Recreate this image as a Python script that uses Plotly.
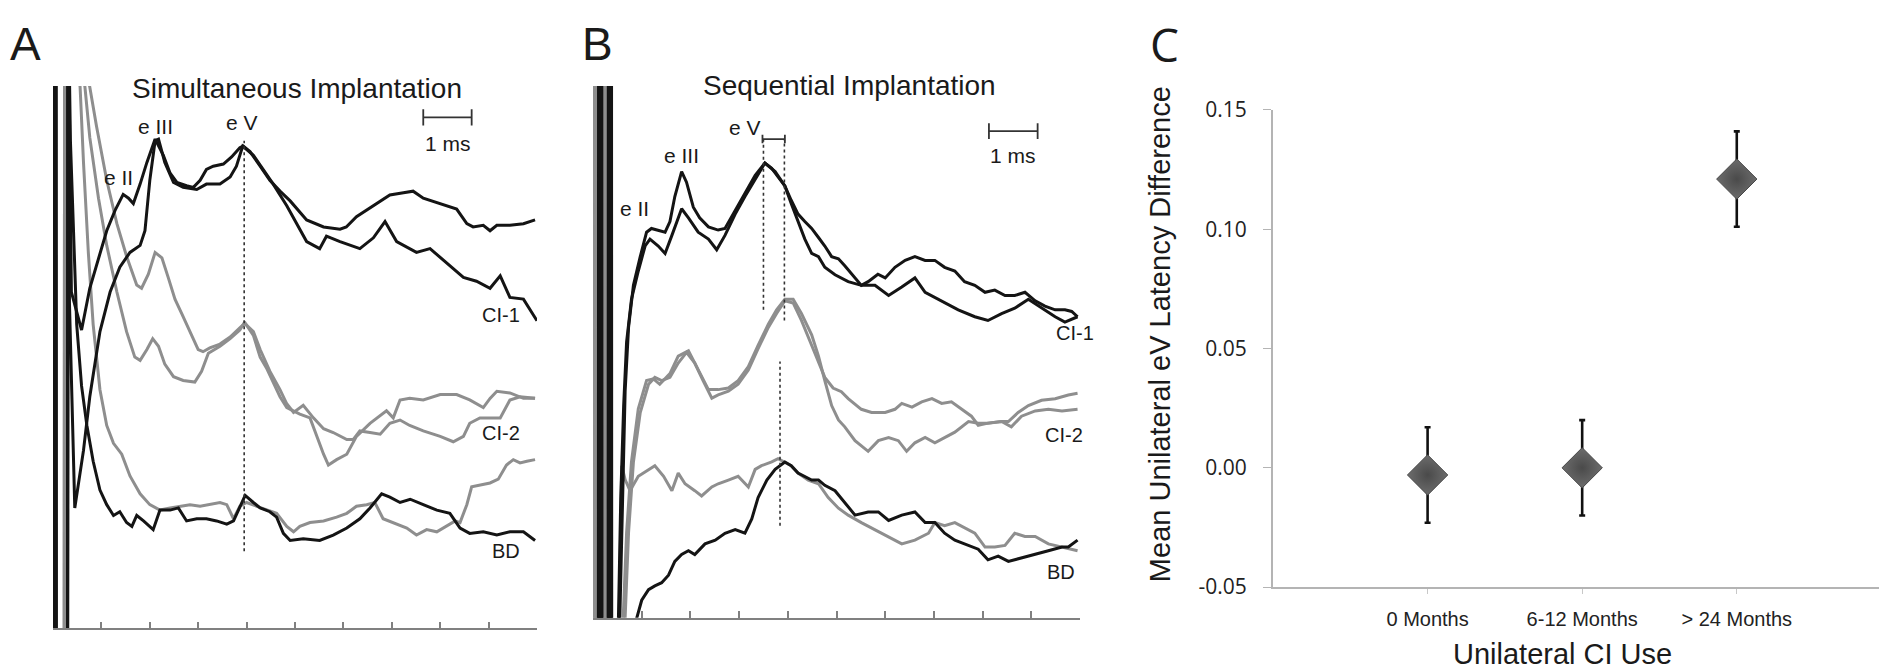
import plotly.graph_objects as go

W, H = 1879, 672

# ---------------- Panel A: Simultaneous implantation (time ms, amplitude a.u.) ----------------
A_CI1_A = [(0.0, -20), (0.005, 120), (0.06, 120), (0.065, -20), (0.30, -20), (0.31, 120), (0.38, 62), (0.59, 55),
           (0.76, 62.7), (0.94, 68), (1.11, 73.3), (1.28, 77), (1.45, 80), (1.56, 79.3), (1.66, 78.3), (1.80, 81.9),
           (1.94, 85.9), (2.11, 90.2), (2.28, 87.2), (2.42, 83.9), (2.56, 82.2), (2.76, 81.6), (2.90, 81.3),
           (3.04, 82.6), (3.17, 84.6), (3.31, 85.2), (3.52, 85.6), (3.69, 86.9), (3.86, 88.6), (3.93, 88.9),
           (4.07, 87.9), (4.28, 85.2), (4.48, 82.6), (4.69, 80.6), (4.90, 78.8), (5.24, 75.3), (5.59, 74),
           (5.93, 73.6), (6.06, 74), (6.27, 75.9), (6.62, 77.9), (6.96, 79.9), (7.24, 80.3), (7.44, 80.6),
           (7.65, 79.3), (8.00, 78.3), (8.34, 77.3), (8.55, 74.6), (8.68, 74), (8.89, 74.3), (9.03, 73.3),
           (9.17, 74.3), (9.44, 74.3), (9.72, 74.6), (9.96, 75.3)]
A_CI1_B = [(0.0, -20), (0.005, 120), (0.06, 120), (0.065, -20), (0.30, -20), (0.31, 120), (0.34, 60), (0.45, 22.2),
           (0.63, 32.8), (0.76, 42.7),
           (0.97, 54.7), (1.18, 62), (1.38, 66.6), (1.59, 69.3), (1.80, 70.6), (1.90, 73.3), (2.00, 82.6),
           (2.11, 89.9), (2.18, 90.2), (2.31, 85.9), (2.49, 82.2), (2.69, 81.3), (2.97, 80.9), (3.17, 81.9),
           (3.45, 81.9), (3.66, 83.2), (3.79, 85.2), (3.92, 88.9), (4.14, 87.2), (4.35, 84.6), (4.55, 81.9),
           (4.83, 77.9), (5.05, 74.5), (5.24, 71.3), (5.51, 70), (5.65, 72.3), (5.93, 71.3), (6.34, 70),
           (6.62, 72), (6.86, 75), (7.10, 71.3), (7.51, 69.3), (7.79, 70), (8.13, 67.3), (8.48, 64.7),
           (8.75, 64), (9.03, 62.7), (9.24, 65), (9.44, 61), (9.72, 60.7), (10.0, 56.7)]
A_BD_K = [(0.0, -20), (0.005, 120), (0.06, 120), (0.065, -20), (0.30, -20), (0.31, 120), (0.36, 89.9), (0.42, 72.6),
          (0.49, 56),
          (0.59, 44.7), (0.70, 37.4), (0.83, 30.8), (0.97, 25.5), (1.11, 22.8), (1.25, 20.8), (1.38, 21.5),
          (1.52, 19.5), (1.63, 18.8), (1.73, 20.8), (1.87, 19.8), (2.07, 18.2), (2.21, 21.8), (2.42, 21.8),
          (2.59, 22.2), (2.76, 19.8), (2.97, 20.2), (3.17, 20.2), (3.38, 19.8), (3.59, 19.2), (3.73, 19.8),
          (3.86, 22.2), (3.97, 24.5), (4.14, 23.2), (4.28, 22.2), (4.48, 21.5), (4.62, 20.5), (4.76, 17.5),
          (4.90, 16.2), (5.17, 16.5), (5.51, 16.2), (5.79, 17.2), (6.07, 18.5), (6.34, 20.2), (6.55, 22.2),
          (6.79, 24.8), (6.96, 24.2), (7.17, 23.2), (7.38, 23.8), (7.65, 22.8), (7.93, 21.8), (8.20, 21.2),
          (8.41, 18.5), (8.61, 17.5), (8.89, 17.8), (9.17, 17.2), (9.44, 17.8), (9.72, 17.8), (9.96, 16.2)]
A_CI2_A = [(0.23, -20), (0.24, 120), (0.76, 99.8),
           (0.90, 92.5), (1.11, 82.6), (1.32, 74.6), (1.52, 68.6), (1.73, 63.3), (1.83, 62.7), (1.97, 65.3),
           (2.11, 69.3), (2.25, 68.3), (2.38, 64.7), (2.52, 60.7), (2.66, 58), (2.83, 54.7), (3.00, 51.4),
           (3.10, 51), (3.24, 51.7), (3.45, 52.4), (3.66, 53.7), (3.86, 55.4), (3.97, 56.3), (4.14, 54),
           (4.28, 50), (4.41, 48), (4.55, 45.4), (4.69, 42.7), (4.83, 40.7), (5.10, 39.5), (5.31, 38.8),
           (5.45, 35.4), (5.59, 32.1), (5.69, 30.1), (5.86, 31.1), (6.07, 32.1), (6.27, 35.4), (6.55, 37.8),
           (6.89, 40.1), (7.03, 38.8), (7.17, 42.1), (7.37, 42.4), (7.65, 42.1), (8.00, 43.1), (8.34, 43.1),
           (8.61, 42.1), (8.89, 40.7), (9.03, 42.4), (9.17, 43.7), (9.44, 43.4), (9.72, 42.4), (9.96, 42.4)]
A_CI2_B = [(0.23, -20), (0.24, 120), (0.66, 99.8),
           (0.76, 90.5), (0.94, 79.3), (1.11, 70.6), (1.32, 62), (1.52, 54.7), (1.69, 50), (1.80, 49.4),
           (1.94, 51.4), (2.06, 53.4), (2.18, 52), (2.31, 48.7), (2.49, 46.4), (2.69, 45.7), (2.93, 45.4),
           (3.07, 47.4), (3.21, 50.7), (3.45, 52), (3.66, 53.4), (3.86, 55), (3.95, 56.3), (4.14, 54.7),
           (4.28, 51.4), (4.48, 47.4), (4.69, 44), (4.83, 41.4), (4.97, 39.8), (5.17, 41.1), (5.38, 38.8),
           (5.59, 36.8), (5.79, 36.1), (6.07, 34.8), (6.20, 34.8), (6.34, 36.4), (6.55, 36.1), (6.76, 35.8),
           (6.96, 37.8), (7.17, 38.4), (7.37, 37.4), (7.65, 36.4), (8.00, 35.4), (8.27, 34.4), (8.48, 35.4),
           (8.61, 37.8), (8.82, 38.8), (9.03, 38.8), (9.24, 38.8), (9.44, 42.1), (9.65, 42.7), (9.96, 42.4)]
A_BD_G = [(0.25, -20), (0.26, 120), (0.56, 99.8),
          (0.63, 85.9), (0.73, 69.3), (0.83, 56), (0.97, 44), (1.11, 37.4), (1.25, 34.1), (1.42, 32.1),
          (1.59, 28.1), (1.80, 24.8), (2.00, 22.8), (2.21, 21.8), (2.42, 22.2), (2.62, 22.5), (2.83, 22.8),
          (3.04, 22.5), (3.24, 22.8), (3.45, 23.2), (3.59, 22.8), (3.73, 20.2), (3.86, 22.5), (4.00, 23.2),
          (4.21, 22.5), (4.41, 21.8), (4.62, 21.2), (4.83, 18.8), (4.97, 17.8), (5.10, 18.8), (5.31, 19.5),
          (5.59, 19.8), (5.86, 20.5), (6.07, 21.2), (6.27, 22.5), (6.48, 22.8), (6.65, 23.2), (6.82, 20.2),
          (7.03, 19.5), (7.31, 18.5), (7.51, 17.2), (7.72, 18.2), (7.93, 17.8), (8.13, 18.8), (8.31, 19.8),
          (8.41, 19.5), (8.55, 22.8), (8.65, 26.1), (8.82, 26.4), (9.03, 26.8), (9.20, 27.5), (9.37, 30.1),
          (9.51, 31.1), (9.65, 30.5), (9.79, 30.8), (9.96, 31.1)]
A_EV_LINE = [(3.95, 14.2), (3.95, 89.9)]

# ---------------- Panel B: Sequential implantation ----------------
B_CI1_A = [(0.11, -20), (0.115, 120), (0.16, 120), (0.165, -20), (0.31, -20), (0.315, 120), (0.36, 120),
           (0.365, -20), (0.50, -20), (0.55, 0), (0.60, 22.6), (0.66, 42.6), (0.73, 54.6), (0.83, 62.5),
           (0.97, 67.9), (1.10, 72.5), (1.20, 73.2), (1.34, 72.9), (1.48, 72.5), (1.58, 74.5), (1.68, 79.2),
           (1.82, 83.9), (1.92, 81.9), (2.06, 77.2), (2.19, 75.2), (2.37, 73.5), (2.57, 72.9), (2.71, 73.2),
           (2.92, 76.5), (3.12, 79.9), (3.33, 83.2), (3.53, 85.5), (3.67, 84.5), (3.80, 82.9), (3.94, 81.2),
           (4.07, 78.5), (4.21, 75.9), (4.35, 74.5), (4.49, 73.2), (4.63, 71.5), (4.76, 69.9), (4.90, 67.9),
           (5.04, 67.5), (5.17, 66.2), (5.38, 63.9), (5.51, 62.5), (5.65, 63.2), (5.85, 64.6), (6.00, 63.9),
           (6.20, 65.9), (6.41, 67.2), (6.61, 67.9), (6.82, 67.2), (7.02, 67.2), (7.22, 65.9), (7.43, 65.2),
           (7.63, 63.2), (7.84, 62.5), (8.05, 61.2), (8.25, 61.6), (8.46, 60.6), (8.66, 60.6), (8.87, 61.2),
           (9.08, 59.6), (9.28, 58.6), (9.49, 57.9), (9.69, 57.9), (9.83, 57.6), (9.95, 56.6)]
B_CI1_B = [(0.12, -20), (0.125, 120), (0.17, 120), (0.175, -20), (0.32, -20), (0.325, 120), (0.37, 120),
           (0.375, -20), (0.48, -20), (0.52, 0), (0.57, 22.6), (0.63, 40), (0.69, 51.9), (0.79, 59.9),
           (0.93, 65.2), (1.07, 69.9), (1.17, 71.2), (1.34, 69.9), (1.48, 68.5), (1.62, 71.9), (1.82, 76.9),
           (1.96, 75.2), (2.16, 72.5), (2.37, 71.2), (2.54, 69.2), (2.71, 71.9), (2.92, 75.9), (3.12, 79.2),
           (3.33, 82.5), (3.53, 85.5), (3.74, 83.9), (3.94, 81.2), (4.07, 77.9), (4.21, 74.5), (4.35, 71.2),
           (4.49, 68.5), (4.63, 67.9), (4.76, 65.9), (4.97, 64.5), (5.24, 63.2), (5.51, 62.5), (5.79, 62.5),
           (6.07, 60.6), (6.34, 62.2), (6.61, 63.9), (6.82, 61.2), (7.02, 60.2), (7.22, 59.2), (7.50, 57.9),
           (7.84, 56.6), (8.11, 55.9), (8.39, 57.2), (8.66, 58.2), (8.94, 59.9), (9.21, 58.2), (9.49, 56.6),
           (9.69, 55.6), (9.95, 56.6)]
B_BD_K = [(0.13, -20), (0.135, 120), (0.18, 120), (0.185, -20), (0.33, -20), (0.335, 120), (0.38, 120),
          (0.385, -20), (0.85, -20), (0.90, 0), (1.00, 3.3), (1.14, 5.3), (1.27, 6), (1.41, 6.6), (1.55, 8),
          (1.68, 10.6), (1.82, 11.9), (1.96, 12.6), (2.09, 11.9), (2.30, 13.9), (2.51, 14.6), (2.71, 15.9),
          (2.92, 16.6), (3.12, 15.9), (3.26, 18.6), (3.39, 22.6), (3.57, 25.9), (3.74, 27.9), (3.94, 29.3),
          (4.07, 28.6), (4.21, 27.2), (4.35, 26.6), (4.49, 25.9), (4.63, 25.9), (4.76, 24.9), (4.97, 23.9),
          (5.17, 21.6), (5.38, 19.3), (5.65, 19.9), (5.86, 19.9), (6.07, 18.3), (6.34, 19.3), (6.61, 19.9),
          (6.82, 17.9), (7.02, 17.9), (7.22, 15.9), (7.43, 14.6), (7.71, 13.6), (7.91, 12.9), (8.11, 10.9),
          (8.32, 11.6), (8.53, 10.6), (8.80, 11.3), (9.08, 11.9), (9.35, 12.6), (9.63, 13.3), (9.76, 13.3),
          (9.95, 14.6)]
B_CI2_A = [(0.01, -20), (0.015, 120), (0.06, 120), (0.065, -20), (0.21, -20), (0.215, 120), (0.26, 120),
           (0.265, -20), (0.60, -20), (0.66, 0), (0.73, 16), (0.83, 29.3), (0.97, 38.6), (1.14, 43.9),
           (1.27, 45.2), (1.41, 44.6), (1.58, 45.2), (1.75, 47.9), (1.92, 49.9), (2.09, 47.9), (2.26, 44.6),
           (2.44, 41.3), (2.57, 41.9), (2.78, 42.6), (2.98, 43.9), (3.19, 46.6), (3.39, 50.6), (3.60, 54.6),
           (3.77, 57.2), (3.94, 59.6), (4.11, 59.2), (4.28, 55.9), (4.46, 51.9), (4.63, 47.9), (4.76, 45.2),
           (4.93, 43.2), (5.10, 42.5), (5.24, 41.2), (5.51, 39.2), (5.72, 38.6), (6.00, 38.6), (6.20, 39.2),
           (6.34, 40.3), (6.55, 39.6), (6.75, 40.6), (6.96, 41.2), (7.16, 40.3), (7.36, 40.6), (7.57, 39.2),
           (7.77, 37.9), (7.91, 36.2), (8.11, 36.6), (8.39, 36.9), (8.59, 35.9), (8.80, 37.9), (9.08, 38.9),
           (9.35, 39.2), (9.63, 38.9), (9.95, 39.2)]
B_CI2_B = [(0.03, -20), (0.035, 120), (0.08, 120), (0.085, -20), (0.23, -20), (0.235, 120), (0.28, 120),
           (0.285, -20), (0.56, -20), (0.62, 0), (0.69, 16), (0.79, 29.3), (0.93, 39.3), (1.10, 44.6),
           (1.24, 44.9), (1.37, 43.9), (1.58, 45.9), (1.75, 49.2), (1.96, 50.2), (2.16, 46.6), (2.37, 42.9),
           (2.57, 42.9), (2.78, 43.2), (2.98, 44.6), (3.19, 47.2), (3.39, 51.2), (3.60, 55.2), (3.77, 57.9),
           (3.94, 59.9), (4.11, 59.9), (4.28, 57.2), (4.49, 53.2), (4.63, 49.2), (4.76, 44.6), (4.90, 39.9),
           (5.04, 37.2), (5.17, 35.9), (5.38, 33.3), (5.65, 31.3), (5.86, 33.3), (6.07, 33.9), (6.27, 33.3),
           (6.44, 31.3), (6.61, 32.9), (6.82, 33.9), (7.02, 32.9), (7.22, 33.9), (7.43, 34.9), (7.71, 36.9),
           (7.91, 36.6), (8.11, 36.6), (8.39, 36.9), (8.53, 36.9), (8.73, 38.6), (8.94, 39.9), (9.21, 40.9),
           (9.49, 41.2), (9.76, 41.9), (9.95, 42.2)]
B_BD_G = [(0.05, -20), (0.055, 120), (0.10, 120), (0.105, -20), (0.25, -20), (0.255, 120), (0.30, 120),
          (0.305, -20), (0.50, -20), (0.55, 10), (0.59, 28.6), (0.66, 26), (0.76, 23.9), (0.93, 26.6),
          (1.14, 27.9), (1.27, 28.6), (1.45, 26.6), (1.62, 23.9), (1.75, 27.2), (1.89, 25.2), (2.09, 23.9),
          (2.23, 22.9), (2.44, 24.6), (2.57, 25.2), (2.78, 25.9), (2.98, 26.6), (3.19, 24.6), (3.33, 27.9),
          (3.46, 28.6), (3.67, 29.3), (3.80, 29.9), (3.94, 29.3), (4.07, 28.6), (4.21, 27.2), (4.42, 25.9),
          (4.63, 25.2), (4.83, 22.6), (5.04, 20.6), (5.24, 19.3), (5.51, 17.9), (5.79, 16.6), (6.07, 15.3),
          (6.34, 13.9), (6.61, 14.6), (6.89, 15.9), (7.02, 17.9), (7.22, 17.3), (7.43, 17.9), (7.63, 17.0),
          (7.84, 15.9), (8.05, 13.3), (8.25, 13.3), (8.46, 13.6), (8.66, 15.9), (8.87, 15.3), (9.08, 15.3),
          (9.35, 13.9), (9.63, 13.3), (9.95, 12.6)]
B_EV_LINES = [[(3.50, 57.9), (3.50, 89.9)], [(3.93, 55.9), (3.93, 89.9)], [(3.84, 17.3), (3.84, 48.2)]]

# ---------------- Panel C: mean unilateral eV latency difference ----------------
C_CATEGORIES = ["0 Months", "6-12 Months", "> 24 Months"]
C_MEANS = [-0.003, 0.0, 0.121]
C_ERRORS = [0.02, 0.02, 0.02]
C_YTICKS = [-0.05, 0.0, 0.05, 0.10, 0.15]
C_YTICKTEXT = ["-0.05", "0.00", "0.05", "0.10", "0.15"]

BLACK = "#141414"
GRAY = "#8e8e8e"
AXIS_GRAY = "#808080"
FONT = "Liberation Sans, Arial, Helvetica, sans-serif"
NARROW = "Liberation Sans Narrow, Arial Narrow, Liberation Sans, sans-serif"


def px(xp):
    return xp / W


def py(yp):
    return 1 - yp / H


fig = go.Figure()


def add_line(pairs, color, xa, ya, width=3.0, dash=None):
    fig.add_trace(go.Scatter(
        x=[p[0] for p in pairs], y=[p[1] for p in pairs], mode="lines",
        line=dict(color=color, width=width, dash=dash),
        xaxis=xa, yaxis=ya, showlegend=False, hoverinfo="skip"))


# Panel A traces
for tr in (A_CI2_A, A_CI2_B, A_BD_G):
    add_line(tr, GRAY, "x", "y")
for tr in (A_CI1_A, A_CI1_B, A_BD_K):
    add_line(tr, BLACK, "x", "y")
add_line(A_EV_LINE, "#333333", "x", "y", width=1.6, dash="dot")

# Panel B traces
for tr in (B_CI2_A, B_CI2_B, B_BD_G):
    add_line(tr, GRAY, "x2", "y2")
for tr in (B_CI1_A, B_CI1_B, B_BD_K):
    add_line(tr, BLACK, "x2", "y2")
for ln in B_EV_LINES:
    add_line(ln, "#333333", "x2", "y2", width=1.6, dash="dot")

# Panel C
fig.add_trace(go.Scatter(
    x=C_CATEGORIES, y=C_MEANS, mode="markers",
    marker=dict(symbol="diamond", size=31, color="#6c6c6c",
                line=dict(color="#474747", width=1),
                gradient=dict(type="radial", color="#4a4a4a")),
    error_y=dict(type="data", array=C_ERRORS, color="#111111", thickness=2.6, width=3),
    xaxis="x3", yaxis="y3", showlegend=False, hoverinfo="skip"))

trace_axis = dict(range=[0, 10], showline=True, linecolor=AXIS_GRAY, linewidth=1.5,
                  ticks="inside", ticklen=7, tickwidth=1.5, tickcolor=AXIS_GRAY,
                  tickvals=list(range(1, 10)), showticklabels=False,
                  showgrid=False, zeroline=False, fixedrange=True)
hidden_y = dict(range=[0, 100], visible=False, showgrid=False, zeroline=False, fixedrange=True)

fig.update_layout(
    width=W, height=H, autosize=False,
    margin=dict(l=0, r=0, t=0, b=0),
    paper_bgcolor="white", plot_bgcolor="white", showlegend=False,
    xaxis=dict(domain=[px(53), px(537)], anchor="y", **trace_axis),
    yaxis=dict(domain=[py(640), py(74)], anchor="x", **hidden_y),
    xaxis2=dict(domain=[px(593), px(1080)], anchor="y2", **trace_axis),
    yaxis2=dict(domain=[py(629), py(74)], anchor="x2", **hidden_y),
    xaxis3=dict(domain=[px(1273), 1.0], anchor="y3", type="category", range=[-1, 2.92],
                showline=True, linecolor="#b4b4b4", linewidth=2, ticks="outside", ticklen=5,
                tickcolor="#c8c8c8", showgrid=False, zeroline=False, ticklabelstandoff=8,
                tickfont=dict(family=NARROW, size=20, color="#222222")),
    yaxis3=dict(domain=[py(597), py(99)], anchor="x3", range=[-0.05, 0.15],
                tickvals=C_YTICKS, ticktext=C_YTICKTEXT,
                showline=True, linecolor="#b4b4b4", linewidth=2, ticks="outside", ticklen=8,
                tickcolor="#b4b4b4", showgrid=False, zeroline=False, ticklabelstandoff=12,
                tickfont=dict(family="Open Sans, Noto Sans, sans-serif", size=21, color="#222222")),
)

ann = []


def label(text, x, y, xref, yref, size, family=FONT, color="#1a1a1a", angle=0, xanchor="center"):
    ann.append(dict(text=text, x=x, y=y, xref=xref, yref=yref, showarrow=False,
                    xanchor=xanchor, yanchor="middle", textangle=angle,
                    font=dict(family=family, size=size, color=color)))


# panel letters and titles
label("A", px(25), py(30), "paper", "paper", 46)
label("B", px(597), py(30), "paper", "paper", 46)
label("C", px(1164), py(30), "paper", "paper", 46, family="Open Sans, Noto Sans, sans-serif")
label("Simultaneous Implantation", px(297), py(77), "paper", "paper", 28)
label("Sequential Implantation", px(849), py(74), "paper", "paper", 28)

# panel A labels
label("e II", 1.35, 83.2, "x", "y", 21)
label("e III", 2.11, 92.5, "x", "y", 21)
label("e V", 3.90, 93.2, "x", "y", 21)
label("1 ms", 8.17, 89.3, "x", "y", 21)
label("CI-1", 9.26, 57.7, "x", "y", 20)
label("CI-2", 9.26, 36.1, "x", "y", 20)
label("BD", 9.36, 14.2, "x", "y", 20)

# panel B labels
label("e II", 0.86, 76.9, "x2", "y2", 21)
label("e III", 1.82, 86.9, "x2", "y2", 21)
label("e V", 3.13, 92.2, "x2", "y2", 21)
label("1 ms", 8.63, 86.9, "x2", "y2", 21)
label("CI-1", 9.90, 53.6, "x2", "y2", 20)
label("CI-2", 9.67, 34.3, "x2", "y2", 20)
label("BD", 9.61, 8.6, "x2", "y2", 20)

# panel C titles
label("Mean Unilateral eV Latency Difference", px(1160), py(333), "paper", "paper", 29, angle=-90)
label("Unilateral CI Use", px(1562), py(667), "paper", "paper", 29, family=NARROW)

fig.update_layout(annotations=ann)

# scale bars and eV latency bracket
shapes = []


def hbar(x0, x1, y, cap, xref, yref, color="#333333", width=1.8):
    shapes.append(dict(type="line", x0=x0, x1=x1, y0=y, y1=y, xref=xref, yref=yref,
                       line=dict(color=color, width=width)))
    for xx in (x0, x1):
        shapes.append(dict(type="line", x0=xx, x1=xx, y0=y - cap, y1=y + cap, xref=xref, yref=yref,
                           line=dict(color=color, width=width)))


hbar(7.65, 8.65, 94.2, 1.5, "x", "y")
hbar(8.13, 9.13, 91.5, 1.5, "x2", "y2")
hbar(3.48, 3.94, 90.0, 0.8, "x2", "y2")
fig.update_layout(shapes=shapes)

fig.write_html("out.html", config={"displayModeBar": False},
               post_script="document.body.style.margin='0';")
